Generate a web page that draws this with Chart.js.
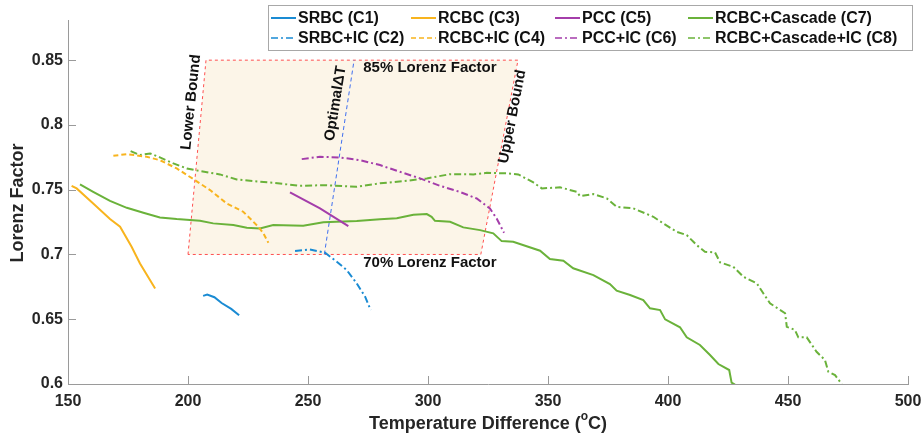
<!DOCTYPE html>
<html>
<head>
<meta charset="utf-8">
<script src="https://cdn.jsdelivr.net/npm/chart.js@4.4.1/dist/chart.umd.min.js"></script>
<style>
  html, body { margin: 0; padding: 0; background: #fff; }
</style>
</head>
<body>
<canvas id="grafico" width="921" height="443"></canvas>
<script>
// eixos
var ticksX = [150, 200, 250, 300, 350, 400, 450, 500];
var ticksY = [0.6, 0.65, 0.7, 0.75, 0.8, 0.85];

// SRBC (C1)
var c1T = [206.3, 208, 211, 214, 218, 221.3];
var c1L = [0.668, 0.669, 0.667, 0.6625, 0.658, 0.653];
// SRBC+IC (C2)
var c2T = [244.6, 250.8, 257.1, 262.0, 266.1, 270.3, 273.8, 276.1];
var c2L = [0.7026, 0.7039, 0.7013, 0.6944, 0.688, 0.6777, 0.6674, 0.6571];
// RCBC (C3)
var c3T = [151.5, 153.6, 160.5, 167.5, 171.7, 176.5, 180, 186.3];
var c3L = [0.753, 0.751, 0.7394, 0.7273, 0.7214, 0.706, 0.6931, 0.6738];
// RCBC+IC (C4)
var c4T = [168.9, 174.5, 182.8, 188.3, 195.3, 202.2, 209.2, 216.1, 223, 229.3, 231.4, 233.5];
var c4L = [0.7762, 0.7775, 0.7754, 0.7728, 0.7664, 0.7582, 0.7497, 0.7394, 0.733, 0.7214, 0.7163, 0.709];
// PCC (C5)
var c5T = [242.5, 255, 266.8];
var c5L = [0.7479, 0.7355, 0.7219];
// PCC+IC (C6)
var c6T = [247.4, 255, 263.3, 271.7, 280, 288.3, 296.7, 305, 313.3, 320.3, 325.8, 328.6, 331.7];
var c6L = [0.7736, 0.7754, 0.7749, 0.7728, 0.769, 0.7638, 0.7587, 0.753, 0.7483, 0.7432, 0.7355, 0.7278, 0.7167];
// RCBC+Cascade (C7)
var c7T = [155, 160.5, 167.5, 174.5, 181.4, 188.3, 195.3, 205, 210.5, 218.9, 224.5, 230, 235.5, 248, 256.4,
           270.3, 280, 287, 293.9, 299.5, 301.5, 302.9, 309.2, 314.7, 321.7, 327.2, 330.7, 335.5, 346.7, 350.8,
           356.4, 360.5, 368.9, 375.8, 378.6, 384.2, 389.7, 392.5, 396.7, 398.8, 405, 407.8, 413.3, 417.5, 421,
           425.5, 426.5, 427.9];
var c7L = [0.7541, 0.7484, 0.7414, 0.736, 0.7322, 0.7286, 0.7273, 0.726, 0.724, 0.7227, 0.7206, 0.7201, 0.7227, 0.7221, 0.7248,
           0.7258, 0.7271, 0.7279, 0.7306, 0.7312, 0.7291, 0.726, 0.7252, 0.7209, 0.7188, 0.7163, 0.7103, 0.7098, 0.7029, 0.6965,
           0.6951, 0.6893, 0.6841, 0.6772, 0.672, 0.6687, 0.6648, 0.6584, 0.6571, 0.6499, 0.6438, 0.636, 0.6301, 0.6224, 0.6154,
           0.6108, 0.601, 0.5995];
// RCBC+Cascade+IC (C8)
var c8T = [176.1, 180, 184.2, 188.3, 193.9, 199.5, 205, 213.3, 220.3, 230, 235.5, 246.7, 256.4, 270.3, 280, 291.1,
           299.5, 309.2, 318.9, 324.5, 332.8, 337.6, 343.9, 347.4, 355, 362, 363.3, 368.9, 374.5, 378.6, 385.5,
           393.9, 398, 403.6, 407.8, 411.9, 415.4, 419.6, 421.7, 427.2, 431.4, 437, 439.7, 442.5, 448.8, 449.5,
           452.9, 454.3, 457.8, 461.9, 465.4, 466.8, 469.6, 472.4];
var c8L = [0.7798, 0.7767, 0.778, 0.7749, 0.7703, 0.7664, 0.7644, 0.7618, 0.7579, 0.7561, 0.7553, 0.753, 0.7535, 0.7522, 0.7549, 0.7569,
           0.7587, 0.762, 0.7618, 0.763, 0.7626, 0.7618, 0.7556, 0.751, 0.7518, 0.7484, 0.7451, 0.7466, 0.7433, 0.7368, 0.7356,
           0.7291, 0.724, 0.7175, 0.715, 0.7073, 0.7021, 0.7016, 0.6939, 0.6905, 0.6828, 0.6777, 0.67, 0.6623, 0.6546, 0.6442,
           0.6417, 0.636, 0.636, 0.6249, 0.6185, 0.6095, 0.6069, 0.6];

// zona entre limites e linha do optimo
var zonaT = [200, 207.5, 337.5, 322, 200];
var zonaL = [0.70, 0.85, 0.85, 0.70, 0.70];
var optT = [256.8, 269.2];
var optL = [0.70, 0.85];

var FONTE = '"Liberation Sans", Arial, sans-serif';
var AZUL = '#1a8bd3', LARANJA = '#f8b41e', ROXO = '#a43daa', VERDE = '#6ab23a';
var TRACO = [7, 3, 2, 3];

function pts(xs, ys) {
    return xs.map(function (x, i) { return { x: x, y: ys[i] }; });
}
function serie(nome, xs, ys, cor, dash) {
    return {
        label: nome, data: pts(xs, ys), borderColor: cor, backgroundColor: cor,
        borderWidth: 2, borderDash: dash || [], pointRadius: 0, tension: 0, fill: false, order: 0
    };
}

// textos do grafico (em coordenadas de dados)
var textos = [
    { t: 'Lower Bound', x: 201.3, y: 0.8176, ang: -84 },
    { t: 'Optimal\u0394T', x: 261.5, y: 0.8166, ang: -81 },
    { t: 'Upper Bound', x: 335.2, y: 0.8064, ang: -79 },
    { t: '85% Lorenz Factor', x: 300.8, y: 0.8438, ang: 0 },
    { t: '70% Lorenz Factor', x: 300.8, y: 0.6934, ang: 0 }
];

var extras = {
    id: 'extras',
    afterDatasetsDraw: function (chart) {
        var ctx = chart.ctx, sx = chart.scales.x, sy = chart.scales.y, a = chart.chartArea;
        ctx.save();
        // ticks para dentro
        ctx.strokeStyle = '#9a9a9a';
        ctx.lineWidth = 1;
        ctx.beginPath();
        ticksX.forEach(function (v) {
            var px = Math.round(sx.getPixelForValue(v)) + 0.5;
            ctx.moveTo(px, a.bottom); ctx.lineTo(px, a.bottom - 8);
        });
        ticksY.forEach(function (v) {
            var py = Math.round(sy.getPixelForValue(v)) + 0.5;
            ctx.moveTo(a.left, py); ctx.lineTo(a.left + 8, py);
        });
        ctx.stroke();

        // anotacoes
        ctx.fillStyle = '#111';
        ctx.font = 'bold 15px ' + FONTE;
        ctx.textAlign = 'center';
        ctx.textBaseline = 'middle';
        textos.forEach(function (o) {
            ctx.save();
            ctx.translate(sx.getPixelForValue(o.x), sy.getPixelForValue(o.y));
            ctx.rotate(o.ang * Math.PI / 180);
            ctx.fillText(o.t, 0, 0);
            ctx.restore();
        });

        // titulos dos eixos
        ctx.fillStyle = '#262626';
        ctx.font = 'bold 18px ' + FONTE;
        ctx.save();
        ctx.translate(18, (a.top + a.bottom) / 2 + 1);
        ctx.rotate(-Math.PI / 2);
        ctx.fillText('Lorenz Factor', 0, 0);
        ctx.restore();

        var p1 = 'Temperature Difference (', p2 = 'o', p3 = 'C)';
        ctx.font = 'bold 18px ' + FONTE;
        var w1 = ctx.measureText(p1).width, w3 = ctx.measureText(p3).width;
        ctx.font = 'bold 12px ' + FONTE;
        var w2 = ctx.measureText(p2).width;
        var x0 = (a.left + a.right) / 2 - (w1 + w2 + w3) / 2, yt = 424;
        ctx.textAlign = 'left';
        ctx.font = 'bold 18px ' + FONTE;
        ctx.fillText(p1, x0, yt);
        ctx.font = 'bold 12px ' + FONTE;
        ctx.fillText(p2, x0 + w1, yt - 7);
        ctx.font = 'bold 18px ' + FONTE;
        ctx.fillText(p3, x0 + w1 + w2, yt);
        ctx.restore();
    },
    afterDraw: function (chart) {
        // legenda em 4 colunas x 2 linhas
        var ctx = chart.ctx;
        var colLinha = [271, 411, 555, 688];
        var linhas = [18, 38];
        ctx.save();
        ctx.fillStyle = '#fff';
        ctx.fillRect(268.5, 5.5, 644, 45);
        ctx.strokeStyle = '#a8a8a8';
        ctx.lineWidth = 1;
        ctx.strokeRect(268.5, 5.5, 644, 45);
        ctx.font = 'bold 16px ' + FONTE;
        ctx.textBaseline = 'middle';
        ctx.textAlign = 'left';
        chart.data.datasets.forEach(function (ds, i) {
            if (ds.order !== 0) return;
            var c = Math.floor(i / 2), r = i % 2;
            var x = colLinha[c], y = linhas[r];
            ctx.strokeStyle = ds.borderColor;
            ctx.lineWidth = r === 0 ? 2 : 1.5;
            ctx.setLineDash(ds.borderDash);
            ctx.beginPath();
            ctx.moveTo(x, y); ctx.lineTo(x + 25, y);
            ctx.stroke();
            ctx.setLineDash([]);
            ctx.fillStyle = '#111';
            ctx.fillText(ds.label, x + 27, y + 1);
        });
        ctx.restore();
    }
};

var ctx = document.getElementById('grafico').getContext('2d');
var myChart = new Chart(ctx, {
    type: 'line',
    data: {
        datasets: [
            serie('SRBC (C1)', c1T, c1L, AZUL),
            serie('SRBC+IC (C2)', c2T, c2L, AZUL, TRACO),
            serie('RCBC (C3)', c3T, c3L, LARANJA),
            serie('RCBC+IC (C4)', c4T, c4L, LARANJA, [5, 3]),
            serie('PCC (C5)', c5T, c5L, ROXO),
            serie('PCC+IC (C6)', c6T, c6L, ROXO, TRACO),
            serie('RCBC+Cascade (C7)', c7T, c7L, VERDE),
            serie('RCBC+Cascade+IC (C8)', c8T, c8L, VERDE, TRACO),
            {
                label: 'zona', data: pts(zonaT, zonaL), borderColor: '#ff5050', borderWidth: 1,
                borderDash: [3, 3], backgroundColor: '#fcf5e8', fill: 'shape', pointRadius: 0, tension: 0, order: 10
            },
            {
                label: 'otimo', data: pts(optT, optL), borderColor: '#3f6ff0', borderWidth: 1,
                borderDash: [4, 3], pointRadius: 0, fill: false, order: 5
            }
        ]
    },
    options: {
        responsive: false,
        animation: false,
        devicePixelRatio: 1,
        layout: { padding: { top: 20, right: 13, left: 0, bottom: 0 } },
        scales: {
            x: {
                type: 'linear', min: 150, max: 500,
                afterBuildTicks: function (s) { s.ticks = ticksX.map(function (v) { return { value: v }; }); },
                afterFit: function (s) { s.height = 59; s.paddingLeft = 0; s.paddingRight = 0; },
                grid: { display: false, drawTicks: false },
                border: { display: true, color: '#9a9a9a', width: 1 },
                ticks: { color: '#262626', padding: 8, maxRotation: 0, font: { family: FONTE, size: 16, weight: 'bold' } }
            },
            y: {
                min: 0.6, max: 0.881,
                afterBuildTicks: function (s) { s.ticks = ticksY.map(function (v) { return { value: v }; }); },
                afterFit: function (s) { s.width = 68; s.paddingTop = 0; s.paddingBottom = 0; },
                grid: { display: false, drawTicks: false },
                border: { display: true, color: '#9a9a9a', width: 1 },
                ticks: {
                    color: '#262626', padding: 5, font: { family: FONTE, size: 16, weight: 'bold' },
                    callback: function (v) { return String(+v.toFixed(2)); }
                }
            }
        },
        plugins: {
            legend: { display: false },
            tooltip: { enabled: false }
        }
    },
    plugins: [extras]
});
</script>
</body>
</html>
